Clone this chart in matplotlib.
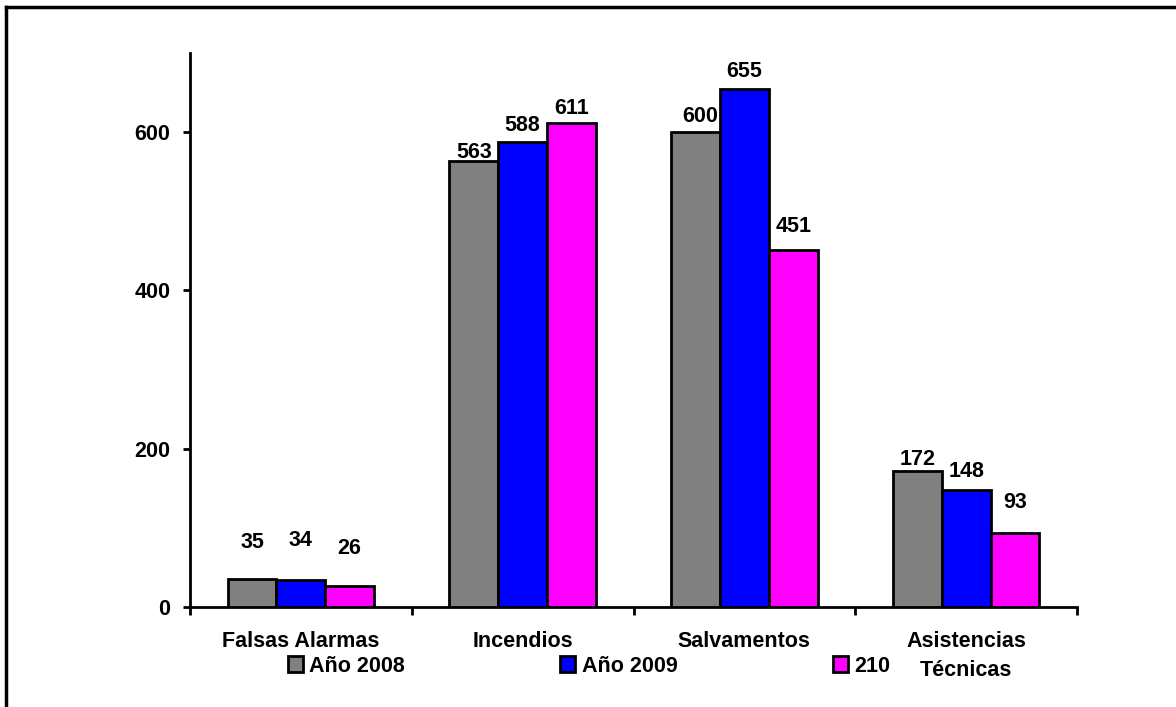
import matplotlib
matplotlib.use("Agg")
import matplotlib.pyplot as plt
from matplotlib.patches import Patch
from matplotlib.lines import Line2D
import numpy as np

categories = ["Falsas Alarmas", "Incendios", "Salvamentos", "Asistencias\nTécnicas"]
series_names = ["Año 2008", "Año 2009", "210"]
values_2008 = [35, 563, 600, 172]
values_2009 = [34, 588, 655, 148]
values_210 = [26, 611, 451, 93]

colors = ["#808080", "#0000FF", "#FF00FF"]
# label offsets above each bar top (pixels), per series / category
label_dy = [[37, 9, 16, 11], [40, 16, 17, 18], [38, 15, 24, 31]]
label_dx = [[0, 0, 5, 0], [0, 0, 0, 0], [0, 0, 0, 0]]

plt.rcParams["font.family"] = ["Liberation Sans", "DejaVu Sans"]
plt.rcParams["font.weight"] = "bold"

fig = plt.figure(figsize=(11.76, 7.07), dpi=100)
ax = fig.add_axes([190 / 1176, 1 - 607 / 707, (1077 - 190) / 1176, (607 - 53) / 707])

x = np.arange(len(categories))
w = 0.22
series = [values_2008, values_2009, values_210]
for i, vals in enumerate(series):
    xs = x + (i - 1) * w
    ax.bar(xs, vals, width=w, color=colors[i], edgecolor="black", linewidth=2.0,
           label=series_names[i], zorder=3)
    for j, v in enumerate(vals):
        ax.annotate(str(v), (xs[j], v), xytext=(label_dx[i][j], label_dy[i][j]),
                    textcoords="offset pixels", ha="center", va="center",
                    fontsize=15.5, fontweight="bold")

ax.set_xlim(-0.5, 3.5)
ax.set_ylim(0, 700)
ax.set_yticks([0, 200, 400, 600])
ax.set_xticks(x)
ax.set_xticklabels(categories, fontsize=15.5, fontweight="bold")
for t in ax.get_xticklabels():
    t.set_linespacing(1.5)
ax.set_xticks(np.arange(-0.5, 4, 1), minor=True)
ax.tick_params(axis="x", which="major", length=0, pad=17)
ax.tick_params(axis="x", which="minor", length=6, width=2, direction="out")
ax.tick_params(axis="y", length=5, width=2, pad=9, labelsize=15.5)
for t in ax.get_yticklabels():
    t.set_fontweight("bold")

for s in ["top", "right"]:
    ax.spines[s].set_visible(False)
for s in ["left", "bottom"]:
    ax.spines[s].set_linewidth(2)

handles = [Patch(facecolor=c, edgecolor="black", linewidth=2) for c in colors]
fig.legend(handles, series_names, loc="center", ncol=3,
           bbox_to_anchor=(589 / 1176, 1 - 666 / 707), frameon=False,
           prop={"size": 15.5, "weight": "bold"}, handlelength=0.7, handleheight=0.7,
           handletextpad=0.3, columnspacing=7.2, borderpad=0, borderaxespad=0)

# outer frame (top and left edges visible)
fig.add_artist(Line2D([6 / 1176, 1], [1 - 7 / 707, 1 - 7 / 707], color="black",
                      linewidth=2.5, transform=fig.transFigure))
fig.add_artist(Line2D([6 / 1176, 6 / 1176], [0, 1 - 7 / 707], color="black",
                      linewidth=2.5, transform=fig.transFigure))

fig.savefig("out.png", dpi=100)
